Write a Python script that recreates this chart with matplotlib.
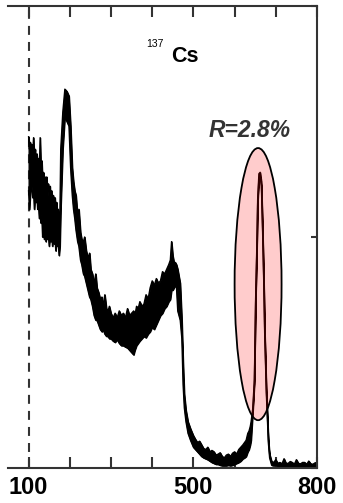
import matplotlib
matplotlib.use('Agg')
import matplotlib.pyplot as plt
from matplotlib.patches import Ellipse

# ---------------- data ----------------
channels = [100, 102, 104, 106, 108, 110, 112, 114, 116, 118, 120, 122, 124, 126, 128, 130,
            132, 134, 136, 138, 140, 142, 144, 146, 148, 150, 152, 154, 156, 158, 160, 162,
            164, 166, 168, 170, 172, 174, 176,
            178, 183, 188, 193, 198, 202,
            206, 209, 212, 215, 219, 222, 226, 229, 233, 236, 240, 244, 248, 251, 255, 259,
            263, 266, 270, 274, 278, 281, 285, 289, 293, 296, 300, 305, 310, 315, 320, 325,
            330, 335, 340, 345, 350, 355, 358, 362, 366, 370, 375, 380, 385, 390, 395, 400,
            405, 410, 415, 420, 425, 430, 435, 440, 444, 447, 450, 453, 456, 459, 462, 465,
            468, 472, 475, 478, 482, 487, 493,
            500, 505, 510, 515, 520, 525, 530, 535, 540, 545, 550, 555, 560, 565, 570, 575,
            580, 585, 590, 595, 600, 605, 610, 615, 620, 624, 628, 632, 635, 638, 640,
            644, 648, 651, 654, 656, 659, 662, 665, 668, 671, 673, 677, 680, 682, 685,
            690, 695, 700, 705, 710, 715, 720, 725, 730, 735, 740, 745, 750, 755, 760, 765,
            770, 775, 780, 785, 790, 795, 800]
counts_upper = [717, 690, 705, 660, 700, 680, 715, 670, 690, 650, 680, 660, 670, 640, 715, 650,
                665, 620, 640, 600, 630, 610, 630, 590, 615, 600, 610, 580, 600, 570, 590, 575,
                585, 560, 575, 545, 560, 540, 550,
                690, 770, 820, 815, 805, 740,
                650, 620, 600, 590, 545, 560, 510, 495, 490, 500, 470, 455, 465, 430, 420, 400,
                420, 390, 380, 365, 370, 350, 375, 345, 340, 350, 335, 325, 335, 325, 340, 330,
                335, 325, 345, 330, 335, 340, 330, 350, 345, 360, 350, 355, 375, 365, 390, 405,
                395, 410, 400, 405, 425, 420, 430, 440, 450, 490, 460, 445, 445, 440, 430, 415,
                400, 320, 230, 160, 125, 100, 85,
                70, 62, 55, 58, 50, 42, 40, 45, 35, 38, 35, 28, 30, 33, 25, 22,
                28, 30, 25, 32, 35, 30, 40, 45, 50, 55, 60, 75, 80, 90, 100,
                128, 192, 366, 482, 582, 637, 640, 620, 520, 402, 302, 172, 106, 62, 30,
                14, 12, 18, 10, 12, 9, 20, 10, 10, 14, 12, 8, 18, 10, 9, 12,
                12, 8, 15, 9, 8, 11, 12]
counts_lower = [600, 560, 590, 620, 600, 585, 600, 560, 590, 575, 590, 560, 570, 540, 565, 530,
                545, 500, 520, 495, 515, 490, 510, 495, 505, 480, 500, 490, 510, 480, 505, 485,
                500, 470, 495, 480, 485, 460, 480,
                560, 690, 760, 750, 740, 650,
                590, 560, 540, 515, 490, 480, 450, 440, 420, 415, 400, 385, 370, 365, 350, 330,
                320, 320, 310, 300, 295, 300, 290, 285, 285, 280, 280, 275, 272, 278, 270, 265,
                265, 262, 260, 255, 250, 245, 255, 265, 270, 275, 280, 285, 282, 290, 295, 305,
                300, 310, 320, 330, 335, 345, 350, 360, 365, 385, 385, 390, 395, 390, 340, 330,
                320, 280, 180, 130, 100, 75, 60,
                45, 40, 35, 30, 25, 22, 20, 18, 15, 12, 10, 8, 8, 6, 5, 5,
                5, 6, 5, 6, 8, 10, 12, 15, 20, 22, 25, 35, 40, 50, 60,
                118, 182, 356, 472, 572, 627, 630, 610, 510, 392, 292, 162, 96, 54, 22,
                6, 5, 6, 4, 4, 3, 5, 3, 3, 4, 4, 3, 4, 3, 3, 3,
                3, 3, 4, 3, 3, 3, 3]

x_ticks = [100, 200, 300, 400, 500, 600, 700, 800]
x_tick_labels = ['100', '', '', '', '500', '', '', '800']
y_ticks = [0, 500, 1000]
marker_channel = 100
isotope_mass = '137'
isotope_symbol = 'Cs'
resolution_text = 'R=2.8%'

# ---------------- figure ----------------
fig = plt.figure(figsize=(3.43, 5.03), dpi=100)
ax = fig.add_axes([8 / 343, 35 / 503, 309 / 343, 462 / 503])
ax.set_xlim(50, 800)
ax.set_ylim(0, 1000)

# spectrum as a noisy black band
ax.fill_between(channels, counts_lower, counts_upper, facecolor='black',
                edgecolor='black', linewidth=0.9, zorder=2)
ax.plot(channels, counts_upper, color='black', lw=1.0, zorder=2)
ax.plot(channels, counts_lower, color='black', lw=1.0, zorder=2)

# dashed marker line
ax.axvline(marker_channel, color='#333333', lw=1.5, linestyle=(0, (4.3, 3.4)), zorder=1)

# highlight ellipse around the photopeak
ell = Ellipse((657, 398), width=114, height=589, facecolor=(1, 0, 0, 0.2),
              edgecolor='black', linewidth=1.3, zorder=3)
ax.add_patch(ell)

# texts
ax.text(386, 911, isotope_mass, fontsize=7.5, fontfamily='Liberation Sans',
        ha='left', va='baseline', zorder=4)
ax.text(446, 879, isotope_symbol, fontsize=15.5, fontweight='bold',
        fontfamily='Liberation Sans', ha='left', va='baseline', zorder=4)
ax.text(537, 717, resolution_text, fontsize=16.5, fontstyle='italic', fontweight='bold',
        fontfamily='Liberation Sans', color='#333333', ha='left', va='baseline', zorder=4)

# axes styling
ax.spines['left'].set_visible(False)
for s in ['top', 'bottom', 'right']:
    ax.spines[s].set_color('#333333')
    ax.spines[s].set_linewidth(1.5)

ax.set_xticks(x_ticks)
ax.set_xticklabels(x_tick_labels)
ax.tick_params(axis='x', which='both', direction='in', top=True, bottom=True,
               length=8, width=1.5, color='#333333', pad=6, labelsize=17)
for lab in ax.get_xticklabels():
    lab.set_fontweight('bold')
    lab.set_fontfamily('Liberation Sans')

ax.set_yticks(y_ticks)
ax.tick_params(axis='y', left=False, right=True, direction='in', length=4,
               width=1.5, color='#333333', labelleft=False, labelright=False)

fig.savefig('out.png', dpi=100)
